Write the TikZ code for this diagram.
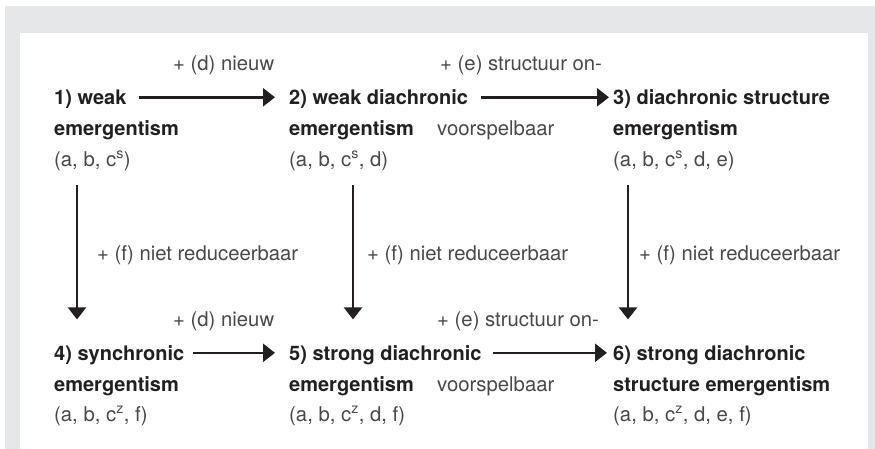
\documentclass[tikz,border=0pt]{standalone}
\usepackage{fontspec}
\setmainfont{TeX Gyre Heros}
\usetikzlibrary{arrows.meta}

\definecolor{panelgray}{HTML}{E6E7E8}
\definecolor{ink}{HTML}{231F20}
\definecolor{softink}{HTML}{484848}

\tikzset{
  lbl/.style={anchor=base west, inner sep=0pt, text height=14.4pt, text depth=0pt,
    font=\fontsize{20.3}{24}\selectfont, text=softink},
  ttl/.style={lbl, font=\fontsize{20}{24}\selectfont\bfseries, text=ink},
  arr/.style={draw=ink, line width=2.5pt, -{Triangle[length=12pt,width=18pt]}}
}

\begin{document}
\begin{tikzpicture}[x=1pt, y=-1pt]

    \useasboundingbox (0,0) rectangle (875,448);
    \fill[panelgray] (5,6) rectangle (880,455);
    \fill[white] (20,33) rectangle (868,455);

    % top row
    \node[ttl] (S1L1) at (54,104.5) {1) weak};
    \node[ttl] (S1L2) at (54,135) {emergentism};
    \node[lbl] (S1L3) at (54,166) {(a, b, c\textsuperscript{s})};

    \node[ttl] (S2L1) at (289,104.5) {2) weak diachronic};
    \node[ttl] (S2L2) at (289,135) {emergentism};
    \node[lbl] (S2L3) at (289,166) {(a, b, c\textsuperscript{s}, d)};

    \node[ttl] (S3L1) at (613,104.5) {3) diachronic structure};
    \node[ttl] (S3L2) at (613,135) {emergentism};
    \node[lbl] (S3L3) at (613,166) {(a, b, c\textsuperscript{s}, d, e)};

    \node[lbl] (D1) at (173,70.5) {+ (d) nieuw};
    \node[lbl] (E1a) at (440,70.5) {+ (e) structuur on-};
    \node[lbl] (E1b) at (437,135) {voorspelbaar};

    % bottom row
    \node[ttl] (S4L1) at (54,360) {4) synchronic};
    \node[ttl] (S4L2) at (54,391) {emergentism};
    \node[lbl] (S4L3) at (54,421) {(a, b, c\textsuperscript{z}, f)};

    \node[ttl] (S5L1) at (289,360) {5) strong diachronic};
    \node[ttl] (S5L2) at (289,391) {emergentism};
    \node[lbl] (S5L3) at (289,421) {(a, b, c\textsuperscript{z}, d, f)};

    \node[ttl] (S6L1) at (613,360) {6) strong diachronic};
    \node[ttl] (S6L2) at (613,391) {structure emergentism};
    \node[lbl] (S6L3) at (613,421) {(a, b, c\textsuperscript{z}, d, e, f)};

    \node[lbl] (D2) at (173,326) {+ (d) nieuw};
    \node[lbl] (E2a) at (437,326) {+ (e) structuur on-};
    \node[lbl] (E2b) at (437,391) {voorspelbaar};

    % labels on the vertical arrows
    \node[lbl] (F1) at (97,260) {+ (f) niet reduceerbaar};
    \node[lbl] (F2) at (367,260) {+ (f) niet reduceerbaar};
    \node[lbl] (F3) at (639,260) {+ (f) niet reduceerbaar};

    \draw[arr, shorten <=12pt, shorten >=14pt] (S1L1.east) -- (S2L1.west);
    \draw[arr, shorten <=13pt, shorten >=4pt] (S2L1.east) -- (S3L1.west);
    \draw[arr, shorten <=9pt, shorten >=14pt] (S4L1.east) -- (S5L1.west);
    \draw[arr, shorten <=11pt, shorten >=6pt] (S5L1.east) -- (S6L1.west);

    \draw[arr] ([xshift=23pt,yshift=-19pt]S1L3.south west) -- ([xshift=23pt,yshift=26pt]S4L1.north west);
    \draw[arr] ([xshift=64pt,yshift=-19pt]S2L3.south west) -- ([xshift=64pt,yshift=26pt]S5L1.north west);
    \draw[arr] ([xshift=15pt,yshift=-19pt]S3L3.south west) -- ([xshift=15pt,yshift=26pt]S6L1.north west);

\end{tikzpicture}
\end{document}
